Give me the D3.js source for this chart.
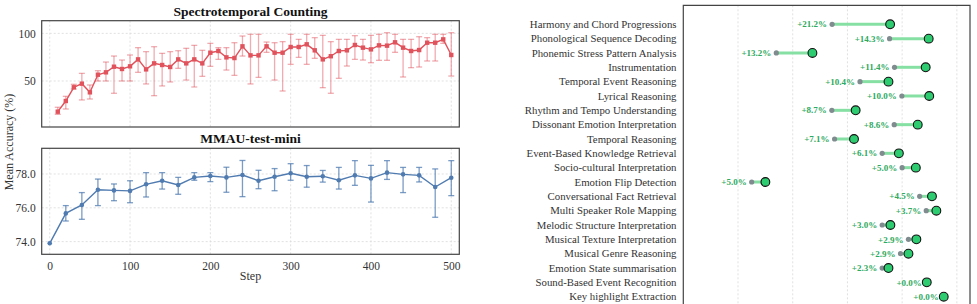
<!DOCTYPE html>
<html>
<head>
<meta charset="utf-8">
<script src="https://cdn.jsdelivr.net/npm/d3@7"></script>
<style>
  body { margin: 0; background: #fff; }
  svg { font-family: "Liberation Serif", "DejaVu Serif", serif; }
  .grid line { stroke: #d9d9d9; stroke-dasharray: 2,2; stroke-width: 0.8; }
</style>
</head>
<body>
<svg id="chart" width="977" height="304"></svg>
<script>
// Spectrotemporal Counting (steps 10..500)
const countSteps = d3.range(10, 501, 10);
const countMean = [17.8, 29.0, 43.4, 47.2, 38.1, 56.6, 59.1, 65.0, 62.6, 65.4,
  72.7, 62.2, 68.5, 66.8, 64.7, 72.7, 68.5, 72.7, 68.5, 79.7,
  81.5, 74.8, 74.1, 86.4, 76.9, 76.9, 86.4, 79.7, 79.7, 85.7,
  85.7, 88.5, 82.2, 72.7, 76.0, 81.5, 82.2, 87.8, 85.0, 83.2,
  87.4, 87.1, 90.6, 85.0, 81.5, 82.5, 90.2, 90.2, 93.7, 77.3];
const countHi = [22.4, 33.9, 46.5, 58.0, 45.8, 60.8, 69.9, 76.2, 72.0, 77.3,
  85.0, 80.8, 86.0, 79.0, 80.8, 81.8, 84.3, 87.4, 82.2, 89.5,
  85.0, 85.0, 90.2, 97.2, 99.0, 99.0, 90.9, 90.2, 91.3, 99.0,
  93.7, 99.0, 95.5, 97.9, 91.3, 93.7, 93.7, 97.6, 93.7, 97.9,
  99.0, 100.7, 99.0, 93.7, 93.7, 96.5, 95.5, 99.0, 99.0, 100.7];
const countLo = [15.0, 20.6, 41.6, 30.1, 31.1, 50.0, 50.0, 37.1, 50.0, 50.0,
  59.1, 46.9, 34.6, 44.8, 49.0, 63.3, 51.0, 43.7, 54.9, 65.4,
  72.7, 61.5, 55.9, 76.2, 46.9, 53.8, 80.1, 51.0, 39.5, 67.5,
  74.8, 67.5, 73.8, 43.0, 37.1, 52.8, 65.7, 72.7, 72.0, 69.2,
  71.7, 71.7, 80.1, 54.2, 64.0, 64.7, 71.0, 71.0, 89.5, 55.2];

// MMAU-test-mini (steps 0..500)
const mmauSteps = d3.range(0, 501, 20);
const mmauMean = [73.9, 75.67, 76.17, 77.07, 77.03, 77.0, 77.39, 77.6, 77.35, 77.8,
  77.88, 77.8, 77.94, 77.6, 77.84, 78.04, 77.84, 77.87, 77.63, 77.92,
  77.74, 78.08, 77.98, 77.92, 77.23, 77.78];
const mmauHi = [73.9, 76.13, 76.9, 77.7, 77.41, 77.6, 78.08, 78.08, 77.8, 78.08,
  78.08, 78.4, 78.8, 78.22, 78.32, 78.61, 78.5, 78.21, 78.39, 78.79,
  78.51, 78.79, 78.39, 78.39, 78.3, 78.79];
const mmauLo = [73.9, 75.22, 75.32, 76.13, 76.42, 76.3, 76.64, 77.11, 76.8, 77.63,
  77.55, 76.92, 76.66, 77.13, 77.01, 77.63, 77.22, 77.52, 77.11, 77.33,
  76.34, 77.68, 76.9, 77.53, 75.44, 76.72];

// Per-task accuracy: before (gray) and after (green)
const tasks = ["Harmony and Chord Progressions", "Phonological Sequence Decoding",
  "Phonemic Stress Pattern Analysis", "Instrumentation", "Temporal Event Reasoning",
  "Lyrical Reasoning", "Rhythm and Tempo Understanding", "Dissonant Emotion Interpretation",
  "Temporal Reasoning", "Event-Based Knowledge Retrieval", "Socio-cultural Interpretation",
  "Emotion Flip Detection", "Conversational Fact Retrieval", "Multi Speaker Role Mapping",
  "Melodic Structure Interpretation", "Musical Texture Interpretation", "Musical Genre Reasoning",
  "Emotion State summarisation", "Sound-Based Event Recognition", "Key highlight Extraction"];
const before = [54.4, 75.4, 34.0, 77.2, 64.6, 79.9, 54.3, 77.1, 55.3, 72.7,
  80.0, 25.0, 86.4, 88.8, 72.7, 82.3, 79.4, 72.7, 89.0, 95.2];
const after = [75.6, 89.7, 47.2, 88.6, 75.0, 89.9, 63.0, 85.7, 62.4, 78.8,
  85.0, 30.0, 90.9, 92.5, 75.7, 85.2, 82.3, 75.0, 89.0, 95.2];
const gains = ["+21.2%", "+14.3%", "+13.2%", "+11.4%", "+10.4%", "+10.0%", "+8.7%", "+8.6%",
  "+7.1%", "+6.1%", "+5.0%", "+5.0%", "+4.5%", "+3.7%", "+3.0%", "+2.9%", "+2.9%",
  "+2.3%", "+0.0%", "+0.0%"];

const svg = d3.select('#chart');

// ---------- left: two line panels ----------
const left = { x0: 41.7, x1: 459.3 };
const x = d3.scaleLinear().domain([-10, 510]).range([left.x0, left.x1]);

function panel(top, bottom, yDomain, yTicks, steps, mean, lo, hi, color, barColor, marker, title, showX) {
  const y = d3.scaleLinear().domain(yDomain).range([bottom, top]);
  const g = svg.append('g');

  g.append('g').attr('class', 'grid')
    .selectAll('line.v').data(x.ticks(5)).enter().append('line')
    .attr('x1', d => x(d)).attr('x2', d => x(d)).attr('y1', top).attr('y2', bottom);
  g.append('g').attr('class', 'grid')
    .selectAll('line.h').data(yTicks).enter().append('line')
    .attr('x1', left.x0).attr('x2', left.x1).attr('y1', d => y(d)).attr('y2', d => y(d));

  const yAxis = g.append('g')
    .attr('transform', 'translate(' + left.x0 + ',0)')
    .call(d3.axisLeft(y).tickValues(yTicks).tickSize(0).tickPadding(6));
  yAxis.select('.domain').remove();
  yAxis.selectAll('text').attr('font-size', 11.5).attr('fill', '#333')
    .attr('font-family', '"Liberation Serif", serif');

  if (showX) {
    const xAxis = g.append('g')
      .attr('transform', 'translate(0,' + bottom + ')')
      .call(d3.axisBottom(x).ticks(5).tickSize(0).tickPadding(8));
    xAxis.select('.domain').remove();
    xAxis.selectAll('text').attr('font-size', 11.5).attr('fill', '#333')
      .attr('font-family', '"Liberation Serif", serif');
  }

  // error bars
  const eb = g.append('g').attr('stroke', barColor).attr('stroke-width', 1.3);
  steps.forEach((s, i) => {
    if (hi[i] - lo[i] < 0.01) return;
    eb.append('line').attr('x1', x(s)).attr('x2', x(s)).attr('y1', y(lo[i])).attr('y2', y(hi[i]));
    eb.append('line').attr('x1', x(s) - 3).attr('x2', x(s) + 3).attr('y1', y(lo[i])).attr('y2', y(lo[i]));
    eb.append('line').attr('x1', x(s) - 3).attr('x2', x(s) + 3).attr('y1', y(hi[i])).attr('y2', y(hi[i]));
  });

  const line = d3.line().x((d, i) => x(steps[i])).y(d => y(d));
  g.append('path').datum(mean).attr('d', line)
    .attr('fill', 'none').attr('stroke', color).attr('stroke-width', 1.4);

  if (marker === 'square') {
    g.selectAll('rect.pt').data(mean).enter().append('rect')
      .attr('x', (d, i) => x(steps[i]) - 2.2).attr('y', d => y(d) - 2.2)
      .attr('width', 4.4).attr('height', 4.4).attr('fill', color);
  } else {
    g.selectAll('circle.pt').data(mean).enter().append('circle')
      .attr('cx', (d, i) => x(steps[i])).attr('cy', d => y(d)).attr('r', 2.3).attr('fill', color);
  }

  g.append('rect').attr('x', left.x0).attr('y', top)
    .attr('width', left.x1 - left.x0).attr('height', bottom - top)
    .attr('fill', 'none').attr('stroke', '#444').attr('stroke-width', 1.2);

  g.append('text').attr('x', (left.x0 + left.x1) / 2).attr('y', top - 5)
    .attr('text-anchor', 'middle').attr('font-weight', 'bold').attr('font-size', 13.5)
    .attr('fill', '#111').text(title);
}

panel(20.7, 127, [1.7, 113.3], [50, 100], countSteps, countMean, countLo, countHi,
  '#e0525c', 'rgba(226,90,100,0.5)', 'square', 'Spectrotemporal Counting', false);
panel(148.3, 254.3, [73.25, 79.52], [74, 76, 78], mmauSteps, mmauMean, mmauLo, mmauHi,
  '#4f7bb0', 'rgba(79,123,176,0.75)', 'circle', 'MMAU-test-mini', true);

svg.append('text').attr('x', (left.x0 + left.x1) / 2).attr('y', 280)
  .attr('text-anchor', 'middle').attr('font-size', 12).attr('fill', '#333').text('Step');
svg.append('text').attr('transform', 'translate(13,142) rotate(-90)')
  .attr('text-anchor', 'middle').attr('font-size', 12).attr('fill', '#333').text('Mean Accuracy (%)');

// ---------- right: dumbbell chart ----------
const rx = d3.scaleLinear().domain([0, 104.8]).range([683.3, 970]);
const ry = d3.scalePoint().domain(tasks).range([24.3, 296.7]);
const rg = svg.append('g');

rg.append('g').attr('class', 'grid')
  .selectAll('line').data([20, 40, 60, 80, 100]).enter().append('line')
  .attr('x1', d => rx(d)).attr('x2', d => rx(d)).attr('y1', 5.3).attr('y2', 304);

rg.selectAll('text.task').data(tasks).enter().append('text')
  .attr('x', 676.5).attr('y', d => ry(d)).attr('dy', '0.35em')
  .attr('text-anchor', 'end').attr('font-size', 10.8).attr('fill', '#333').text(d => d);

rg.selectAll('line.gain').data(tasks).enter().append('line')
  .attr('x1', (d, i) => rx(before[i])).attr('x2', (d, i) => rx(after[i]))
  .attr('y1', d => ry(d)).attr('y2', d => ry(d))
  .attr('stroke', '#86e0a4').attr('stroke-width', 3);

rg.selectAll('circle.before').data(tasks).enter().append('circle')
  .attr('cx', (d, i) => rx(before[i])).attr('cy', d => ry(d)).attr('r', 2.6).attr('fill', '#808b90');

rg.selectAll('circle.after').data(tasks).enter().append('circle')
  .attr('cx', (d, i) => rx(after[i])).attr('cy', d => ry(d)).attr('r', 4.4)
  .attr('fill', '#2ecc71').attr('stroke', '#111').attr('stroke-width', 1.1);

rg.selectAll('text.gain').data(tasks).enter().append('text')
  .attr('x', (d, i) => rx(before[i]) - 5).attr('y', d => ry(d)).attr('dy', '0.35em')
  .attr('text-anchor', 'end').attr('font-size', 9).attr('font-weight', 'bold')
  .attr('fill', '#2eaa5e').text((d, i) => gains[i]);

// frame: top, left and right spines visible
rg.append('path')
  .attr('d', 'M' + rx(0) + ',304V5.3H' + rx(104.8) + 'V304')
  .attr('fill', 'none').attr('stroke', '#444').attr('stroke-width', 1.2);
</script>
</body>
</html>
